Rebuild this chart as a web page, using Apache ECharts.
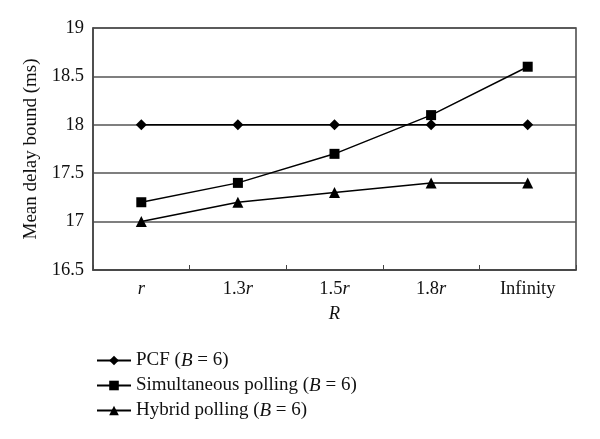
<!DOCTYPE html>
<html>
<head>
<meta charset="utf-8">
<script src="https://cdn.jsdelivr.net/npm/echarts@6/dist/echarts.min.js"></script>
<style>
  html, body { margin: 0; padding: 0; background: #fff; }
  #main { width: 600px; height: 439px; }
</style>
</head>
<body>
<div id="main"></div>
<script>
// categories of R, italic r drawn through rich text
const categories = ['r', '1.3r', '1.5r', '1.8r', 'Infinity'];
const pcf = [18, 18, 18, 18, 18];
const simultaneous = [17.2, 17.4, 17.7, 18.1, 18.6];
const hybrid = [17.0, 17.2, 17.3, 17.4, 17.4];
const seriesNames = ['PCF', 'Simultaneous polling', 'Hybrid polling'];

const font = 'Liberation Serif';

const myChart = echarts.init(document.getElementById('main'));

function catLabel(v) {
  if (v.endsWith('r')) {
    return v.slice(0, -1) + '{i|r}';
  }
  return v;
}

function mkSeries(name, data, symbol, size) {
  return {
    name: name,
    type: 'line',
    data: data,
    symbol: symbol,
    symbolSize: size,
    lineStyle: { color: '#000', width: 1.5 },
    itemStyle: { color: '#000' },
    animation: false
  };
}

const option = {
  backgroundColor: '#fff',
  textStyle: { fontFamily: font, color: '#111' },
  grid: {
    left: 93, right: 24, top: 28, bottom: 169,
    show: true, borderColor: '#444', borderWidth: 1.5,
    backgroundColor: 'transparent'
  },
  legend: {
    orient: 'vertical',
    left: 91, top: 346,
    itemWidth: 34, itemHeight: 12, itemGap: 6,
    data: seriesNames,
    textStyle: {
      fontFamily: font, fontSize: 19, color: '#111',
      rich: { i: { fontFamily: font, fontStyle: 'italic', fontSize: 19, color: '#111' } }
    },
    formatter: function (name) { return name + ' ({i|B} = 6)'; }
  },
  xAxis: {
    type: 'category',
    data: categories,
    boundaryGap: true,
    name: 'R',
    nameLocation: 'middle',
    nameGap: 35,
    nameTextStyle: { fontFamily: font, fontStyle: 'italic', fontSize: 18.5, color: '#111' },
    axisLine: { lineStyle: { color: '#444', width: 1.5 } },
    axisTick: { show: true, inside: true, length: 5, lineStyle: { color: '#444' } },
    axisLabel: {
      margin: 10,
      fontFamily: font, fontSize: 18.5, color: '#111',
      formatter: catLabel,
      rich: { i: { fontFamily: font, fontStyle: 'italic', fontSize: 18.5, color: '#111' } }
    }
  },
  yAxis: {
    type: 'value',
    min: 16.5, max: 19, interval: 0.5,
    name: 'Mean delay bound (ms)',
    nameLocation: 'middle',
    nameGap: 52,
    nameTextStyle: { fontFamily: font, fontSize: 19, color: '#111' },
    axisLine: { show: true, lineStyle: { color: '#444', width: 1.5 } },
    axisTick: { show: false },
    splitLine: { lineStyle: { color: '#555', width: 1.5 } },
    axisLabel: { margin: 9, fontFamily: font, fontSize: 18.5, color: '#111' }
  },
  series: [
    mkSeries(seriesNames[0], pcf, 'diamond', 11),
    mkSeries(seriesNames[1], simultaneous, 'rect', 10),
    mkSeries(seriesNames[2], hybrid, 'triangle', 11)
  ]
};

myChart.setOption(option);
</script>
</body>
</html>
